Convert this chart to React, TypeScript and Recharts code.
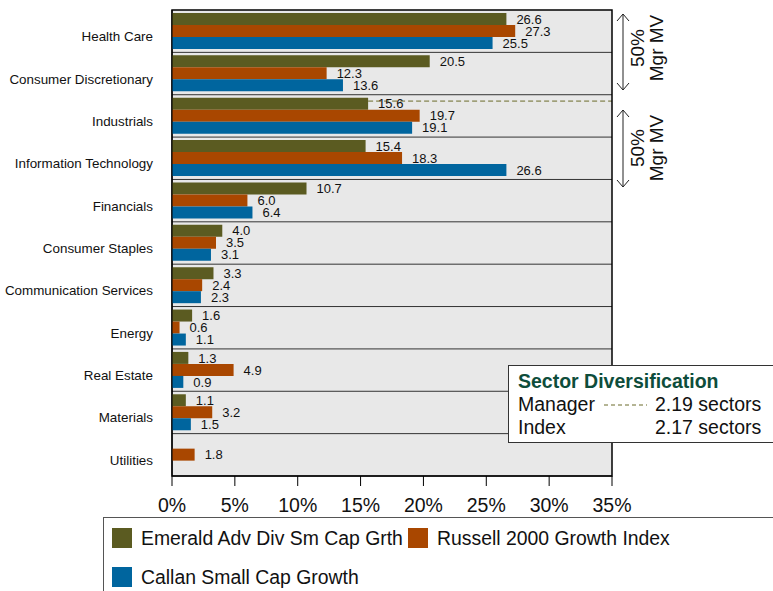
import React from "react"
import * as Recharts from "recharts"
import {
  BarChart,
  Bar,
  XAxis,
  YAxis,
  CartesianGrid,
  ReferenceArea,
  LabelList,
} from "recharts"

// sectors, top to bottom
const categories = [
  "Health Care",
  "Consumer Discretionary",
  "Industrials",
  "Information Technology",
  "Financials",
  "Consumer Staples",
  "Communication Services",
  "Energy",
  "Real Estate",
  "Materials",
  "Utilities",
]

const emerald = [26.6, 20.5, 15.6, 15.4, 10.7, 4.0, 3.3, 1.6, 1.3, 1.1, null]
const russell = [27.3, 12.3, 19.7, 18.3, 6.0, 3.5, 2.4, 0.6, 4.9, 3.2, 1.8]
const callan = [25.5, 13.6, 19.1, 26.6, 6.4, 3.1, 2.3, 1.1, 0.9, 1.5, null]

const seriesNames = ["Emerald Adv Div Sm Cap Grth", "Russell 2000 Growth Index", "Callan Small Cap Growth"]
const seriesColors = ["#5b5b21", "#a94700", "#00659e"]

const xMax = 35
const xTicks = [0, 5, 10, 15, 20, 25, 30, 35]
const separatorRows = [1, 2, 3, 4, 5, 6, 7, 8, 9, 10]

// manager 50% cut-off line (in rows from top)
const managerLineRow = 2.15
const managerSectors = "2.19 sectors"
const indexSectors = "2.17 sectors"

const FONT = "'Liberation Sans', Arial, Helvetica, sans-serif"
const MARGIN = { top: 10, right: 161, bottom: 75, left: 0 }

const data = categories.map((name, i) => ({
  name,
  emerald: emerald[i],
  russell: russell[i],
  callan: callan[i],
}))

const fmt = (v: any) => (v == null ? "" : Number(v).toFixed(1))

const CategoryTick = ({ x, y, payload }: any) => (
  <text x={x} y={y} dy={10} textAnchor="end" fontSize={13.4} fill="#111" fontFamily={FONT}>
    {payload.value}
  </text>
)

// dashed manager line, placed from the plot area
const ManagerLine = () => {
  const hook = (Recharts as any).usePlotArea
  const area = hook ? hook() : null
  const px = area ? area.x : 172
  const py = area ? area.y : MARGIN.top
  const pw = area ? area.width : 440
  const ph = area ? area.height : 466
  const y = py + (managerLineRow * ph) / categories.length
  const x1 = px + ((emerald[2] as number) / xMax) * pw
  return <line x1={x1} x2={px + pw} y1={y} y2={y} stroke="#6b6b2a" strokeDasharray="5 3" />
}

const Arrow = ({ x, y1, y2 }: { x: number; y1: number; y2: number }) => (
  <g stroke="#222" strokeWidth={1} fill="none">
    <line x1={x} y1={y1} x2={x} y2={y2} />
    <polyline points={`${x - 6},${y1 + 7} ${x},${y1} ${x + 6},${y1 + 7}`} />
    <polyline points={`${x - 6},${y2 - 7} ${x},${y2} ${x + 6},${y2 - 7}`} />
  </g>
)

const RotLabel = ({ cy }: { cy: number }) => (
  <g fontFamily={FONT} fontSize={19} fill="#111" textAnchor="middle">
    <text transform={`translate(644, ${cy}) rotate(-90)`}>50%</text>
    <text transform={`translate(663, ${cy}) rotate(-90)`}>Mgr MV</text>
  </g>
)

// row boundaries of the category band
const rowBoundaries = ({ offset }: any) =>
  separatorRows.map((r) => offset.top + (r * offset.height) / categories.length)

export default function App() {
  return (
    <div style={{ position: "absolute", left: 0, top: 0, width: 773, height: 591, background: "#fff" }}>
      <BarChart
        width={773}
        height={591}
        layout="vertical"
        data={data}
        margin={MARGIN}
        barGap={0}
        barSize={12}
      >
        <CartesianGrid
          horizontal
          vertical={false}
          fill="#e8e8e8"
          stroke="#333"
          horizontalCoordinatesGenerator={rowBoundaries}
        />
        <XAxis
          type="number"
          domain={[0, xMax]}
          ticks={xTicks}
          tickFormatter={(v) => `${v}%`}
          height={40}
          axisLine={{ stroke: "#000" }}
          tickLine={{ stroke: "#000" }}
          tickSize={10}
          tickMargin={12}
          tick={{ fontSize: 19.5, fill: "#111", fontFamily: FONT }}
          interval={0}
        />
        <YAxis
          type="category"
          dataKey="name"
          width={172}
          axisLine={{ stroke: "#000" }}
          tickLine={false}
          tickSize={0}
          tickMargin={19}
          tick={<CategoryTick />}
          interval={0}
        />
        <ManagerLine />
        <Bar dataKey="emerald" fill={seriesColors[0]} isAnimationActive={false}>
          <LabelList dataKey="emerald" position="right" offset={10} fontSize={13} fill="#111" fontFamily={FONT} formatter={fmt} />
        </Bar>
        <Bar dataKey="russell" fill={seriesColors[1]} isAnimationActive={false}>
          <LabelList dataKey="russell" position="right" offset={10} fontSize={13} fill="#111" fontFamily={FONT} formatter={fmt} />
        </Bar>
        <Bar dataKey="callan" fill={seriesColors[2]} isAnimationActive={false}>
          <LabelList dataKey="callan" position="right" offset={10} fontSize={13} fill="#111" fontFamily={FONT} formatter={fmt} />
        </Bar>
        <ReferenceArea x1={0} x2={xMax} fill="none" stroke="#000" strokeWidth={1.5} />
      </BarChart>

      <svg
        width={773}
        height={591}
        style={{ position: "absolute", left: 0, top: 0, pointerEvents: "none" }}
      >
        <Arrow x={623} y1={14} y2={90} />
        <RotLabel cy={48} />
        <Arrow x={623} y1={110} y2={187} />
        <RotLabel cy={148} />

        {/* sector diversification box */}
        <rect x={508.5} y={365.5} width={280} height={77} fill="#fff" stroke="#333" />
        <g fontFamily={FONT} fontSize={19.5} fill="#111">
          <text x={518} y={388} fontWeight="bold" fill="#0e4d3b">
            Sector Diversification
          </text>
          <text x={518} y={411}>Manager</text>
          <line x1={604} y1={405} x2={647} y2={405} stroke="#6b6b2a" strokeDasharray="4 3" />
          <text x={655} y={411}>{managerSectors}</text>
          <text x={518} y={434}>Index</text>
          <text x={655} y={434}>{indexSectors}</text>
        </g>

        {/* legend */}
        <rect x={103.5} y={517.5} width={700} height={90} fill="#fff" stroke="#555" />
        <g fontFamily={FONT} fontSize={19.4} fill="#111">
          <rect x={112} y={528} width={20} height={20} fill={seriesColors[0]} />
          <text x={141} y={545}>{seriesNames[0]}</text>
          <rect x={408} y={528} width={20} height={20} fill={seriesColors[1]} />
          <text x={437} y={545}>{seriesNames[1]}</text>
          <rect x={112} y={567} width={20} height={20} fill={seriesColors[2]} />
          <text x={141} y={584}>{seriesNames[2]}</text>
        </g>
      </svg>
    </div>
  )
}
